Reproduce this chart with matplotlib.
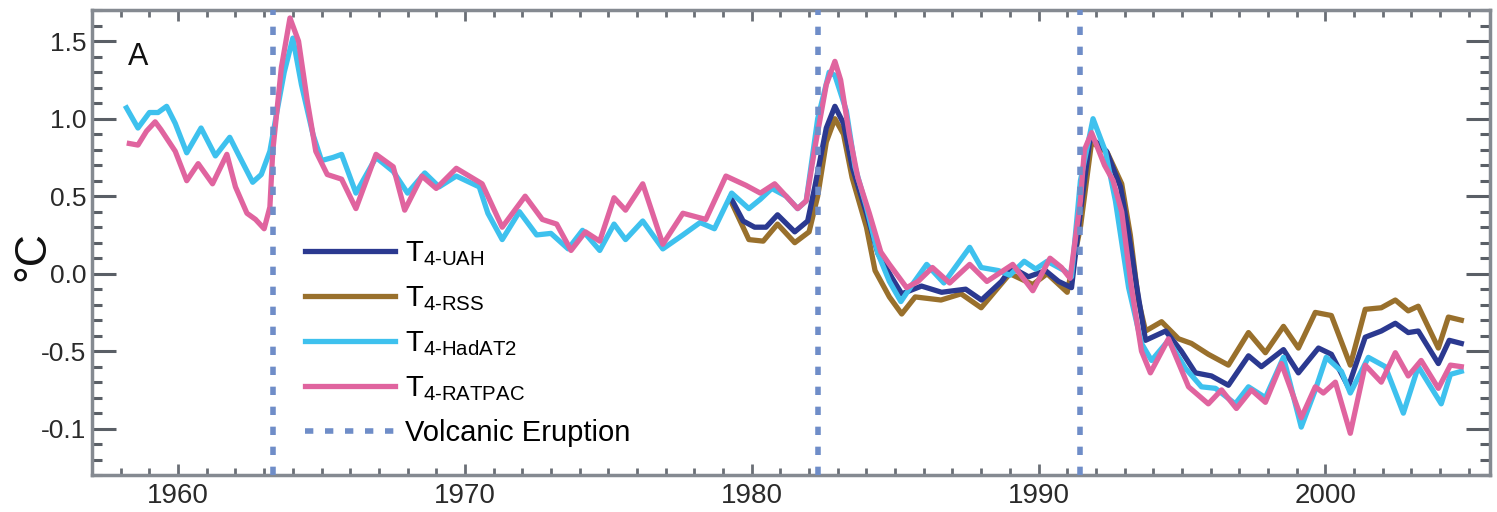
import numpy as np
import matplotlib.pyplot as plt
from matplotlib.ticker import MultipleLocator, FixedLocator, FixedFormatter

plt.rcParams['font.family'] = ['Liberation Sans', 'DejaVu Sans']
plt.rcParams['mathtext.fontset'] = 'custom'
plt.rcParams['mathtext.rm'] = 'Liberation Sans'

# T4 anomalies (deg C)
hadat2_years = [1958.2, 1958.6, 1959.0, 1959.3, 1959.6, 1959.9, 1960.3, 1960.8, 1961.3, 1961.8,
                1962.1, 1962.6, 1962.9, 1963.2, 1963.45, 1963.7, 1964.0, 1964.3, 1964.7, 1965.0,
                1965.4, 1965.7, 1966.2, 1966.9, 1967.5, 1968.0, 1968.6, 1969.1, 1969.7, 1970.5,
                1970.8, 1971.3, 1971.9, 1972.5, 1973.0, 1973.6, 1974.1, 1974.7, 1975.2, 1975.6,
                1976.2, 1976.9, 1977.6, 1978.2, 1978.7, 1979.3, 1979.9, 1980.3, 1980.7, 1981.2,
                1981.6, 1981.9, 1982.3, 1982.7, 1982.9, 1983.3, 1983.6, 1984.0, 1984.4, 1984.8,
                1985.2, 1985.6, 1986.1, 1986.7, 1987.6, 1988.0, 1988.6, 1989.0, 1989.5, 1989.9,
                1990.3, 1990.9, 1991.15, 1991.46, 1991.9, 1992.33, 1992.68, 1993.14, 1993.59, 1993.94,
                1994.53, 1995.12, 1995.68, 1996.17, 1996.86, 1997.32, 1997.91, 1998.54, 1999.16, 1999.65,
                2000.03, 2000.56, 2000.87, 2001.5, 2002.09, 2002.72, 2003.24, 2004.04, 2004.36, 2004.74]
hadat2_vals = [1.07, 0.94, 1.04, 1.04, 1.08, 0.97, 0.78, 0.94, 0.76, 0.88,
               0.77, 0.59, 0.64, 0.79, 1.05, 1.30, 1.52, 1.22, 0.90, 0.73,
               0.75, 0.77, 0.52, 0.75, 0.66, 0.52, 0.65, 0.56, 0.63, 0.56,
               0.39, 0.22, 0.40, 0.25, 0.26, 0.16, 0.28, 0.15, 0.32, 0.22,
               0.34, 0.16, 0.25, 0.33, 0.29, 0.52, 0.42, 0.48, 0.55, 0.50,
               0.42, 0.47, 1.00, 1.30, 1.28, 1.05, 0.69, 0.43, 0.13, -0.05,
               -0.18, -0.07, 0.06, -0.06, 0.17, 0.04, 0.02, -0.01, 0.08, 0.03,
               0.08, 0.02, -0.02, 0.60, 1.00, 0.79, 0.47, -0.09, -0.45, -0.56,
               -0.43, -0.61, -0.73, -0.74, -0.84, -0.73, -0.80, -0.54, -0.99, -0.75,
               -0.54, -0.63, -0.77, -0.54, -0.60, -0.90, -0.60, -0.84, -0.65, -0.63]

ratpac_years = [1958.3, 1958.6, 1958.9, 1959.2, 1959.4, 1959.9, 1960.3, 1960.7, 1961.2, 1961.7,
                1962.0, 1962.4, 1962.7, 1963.0, 1963.2, 1963.3, 1963.6, 1963.9, 1964.2, 1964.5,
                1964.8, 1965.2, 1965.7, 1966.2, 1966.9, 1967.5, 1967.9, 1968.5, 1969.0, 1969.7,
                1970.6, 1971.3, 1972.1, 1972.7, 1973.2, 1973.7, 1974.2, 1974.7, 1975.2, 1975.6,
                1976.2, 1976.9, 1977.6, 1978.4, 1979.1, 1979.8, 1980.3, 1980.8, 1981.2, 1981.6,
                1981.9, 1982.2, 1982.6, 1982.9, 1983.1, 1983.4, 1983.7, 1984.1, 1984.5, 1984.8,
                1985.4, 1985.8, 1986.3, 1986.9, 1987.6, 1988.2, 1989.1, 1989.8, 1990.4, 1990.8,
                1991.1, 1991.46, 1991.6, 1991.85, 1992.3, 1992.6, 1992.9, 1993.24, 1993.59, 1993.9,
                1994.53, 1995.23, 1995.92, 1996.38, 1996.9, 1997.42, 1997.91, 1998.47, 1999.16, 1999.65,
                1999.93, 2000.35, 2000.87, 2001.39, 2001.95, 2002.44, 2002.89, 2003.34, 2003.94, 2004.36,
                2004.74]
ratpac_vals = [0.84, 0.83, 0.92, 0.98, 0.93, 0.79, 0.60, 0.71, 0.58, 0.77,
               0.56, 0.39, 0.35, 0.29, 0.43, 0.79, 1.33, 1.65, 1.50, 1.12,
               0.79, 0.64, 0.61, 0.42, 0.77, 0.69, 0.41, 0.63, 0.55, 0.68,
               0.58, 0.30, 0.50, 0.35, 0.32, 0.15, 0.27, 0.21, 0.49, 0.41,
               0.58, 0.19, 0.39, 0.35, 0.63, 0.57, 0.52, 0.58, 0.50, 0.42,
               0.47, 0.81, 1.22, 1.37, 1.25, 0.90, 0.62, 0.39, 0.14, 0.06,
               -0.09, -0.05, 0.04, -0.06, 0.06, -0.05, 0.06, -0.11, 0.10, 0.04,
               -0.03, 0.47, 0.80, 0.91, 0.70, 0.60, 0.40, -0.09, -0.50, -0.64,
               -0.42, -0.73, -0.84, -0.75, -0.87, -0.75, -0.83, -0.58, -0.93, -0.73,
               -0.77, -0.70, -1.03, -0.59, -0.70, -0.51, -0.66, -0.56, -0.74, -0.59,
               -0.60]

uah_years = [1979.27, 1979.7, 1980.1, 1980.5, 1980.9, 1981.5, 1981.95, 1982.2, 1982.6, 1982.9,
             1983.2, 1983.5, 1984.0, 1984.4, 1984.9, 1985.23, 1985.92, 1986.62, 1987.46, 1988.01,
             1988.71, 1989.06, 1989.65, 1990.24, 1990.7, 1991.15, 1991.46, 1991.8, 1992.0, 1992.37,
             1992.86, 1993.14, 1993.41, 1993.73, 1994.43, 1994.98, 1995.47, 1996.03, 1996.62, 1997.32,
             1997.77, 1998.54, 1999.06, 1999.76, 2000.21, 2000.8, 2001.39, 2001.95, 2002.44, 2002.89,
             2003.24, 2003.94, 2004.32, 2004.74]
uah_vals = [0.49, 0.34, 0.30, 0.30, 0.38, 0.27, 0.34, 0.56, 0.94, 1.08,
            0.97, 0.69, 0.39, 0.13, -0.03, -0.13, -0.08, -0.12, -0.10, -0.17,
            -0.05, 0.04, -0.02, 0.02, -0.05, -0.09, 0.40, 0.88, 0.85, 0.79,
            0.56, 0.26, -0.07, -0.43, -0.37, -0.50, -0.64, -0.66, -0.72, -0.53,
            -0.60, -0.49, -0.64, -0.48, -0.52, -0.73, -0.41, -0.37, -0.32, -0.38,
            -0.37, -0.58, -0.43, -0.45]

rss_years = [1979.27, 1979.9, 1980.4, 1980.9, 1981.5, 1982.0, 1982.3, 1982.6, 1982.9, 1983.2,
             1983.5, 1984.0, 1984.3, 1984.8, 1985.23, 1985.7, 1986.6, 1987.3, 1988.0, 1989.0,
             1989.8, 1990.3, 1991.0, 1991.46, 1991.85, 1992.4, 1992.9, 1993.2, 1993.48, 1993.73,
             1994.29, 1994.88, 1995.33, 1995.92, 1996.62, 1997.32, 1997.91, 1998.54, 1999.06, 1999.65,
             2000.21, 2000.87, 2001.39, 2001.95, 2002.44, 2002.89, 2003.24, 2003.94, 2004.29, 2004.74]
rss_vals = [0.47, 0.22, 0.21, 0.32, 0.20, 0.27, 0.50, 0.85, 1.00, 0.90,
            0.62, 0.30, 0.02, -0.15, -0.26, -0.15, -0.17, -0.13, -0.22, 0.00,
            -0.07, 0.00, -0.12, 0.30, 0.85, 0.78, 0.58, 0.25, -0.17, -0.37,
            -0.31, -0.42, -0.45, -0.52, -0.59, -0.38, -0.51, -0.34, -0.48, -0.25,
            -0.27, -0.59, -0.23, -0.22, -0.17, -0.24, -0.21, -0.48, -0.28, -0.30]

eruption_years = [1963.3, 1982.3, 1991.45]

ytick_vals = [1.5, 1.0, 0.5, 0.0, -0.5, -1.0]
ytick_labels = ['1.5', '1.0', '0.5', '0.0', '-0.5', '-0.1']
xtick_vals = [1960, 1970, 1980, 1990, 2000]

fig = plt.figure(figsize=(14.97, 5.12), dpi=100)
ax = fig.add_axes([0.0615, 0.072, 0.934, 0.908])

hy = '\u2010'
lw = 3.8
ax.plot(uah_years, uah_vals, color='#2B3990', lw=lw, label=r'T$_{\mathregular{4' + hy + 'UAH}}$', zorder=3)
ax.plot(rss_years, rss_vals, color='#99702C', lw=lw, label=r'T$_{\mathregular{4' + hy + 'RSS}}$', zorder=2)
ax.plot(hadat2_years, hadat2_vals, color='#3EC1EE', lw=lw, label=r'T$_{\mathregular{4' + hy + 'HadAT2}}$', zorder=4)
ax.plot(ratpac_years, ratpac_vals, color='#E0649F', lw=lw, label=r'T$_{\mathregular{4' + hy + 'RATPAC}}$', zorder=5)
for i, yr in enumerate(eruption_years):
    ax.axvline(yr, color='#6F8DC8', lw=4, linestyle=(0, (1.5, 2.1)), zorder=6,
               label='Volcanic Eruption' if i == 0 else None)

ax.set_xlim(1957.0, 2005.75)
ax.set_ylim(-1.30, 1.70)

ax.xaxis.set_major_locator(FixedLocator(xtick_vals))
ax.xaxis.set_minor_locator(MultipleLocator(1))
ax.yaxis.set_major_locator(FixedLocator(ytick_vals))
ax.yaxis.set_major_formatter(FixedFormatter(ytick_labels))
ax.yaxis.set_minor_locator(MultipleLocator(0.1))

spine_col = '#858A91'
for s in ax.spines.values():
    s.set_color(spine_col)
    s.set_linewidth(2.5)

ax.tick_params(axis='y', which='major', direction='in', length=17, width=2.2, color='#5a5f66',
               left=True, right=True, labelsize=19, labelcolor='#2a2a2a', pad=4)
ax.tick_params(axis='y', which='minor', direction='in', length=7, width=2.2, color='#5a5f66',
               left=True, right=True)
ax.tick_params(axis='x', which='major', direction='in', length=8, width=2, color='#6a6f76',
               top=True, bottom=True, labelsize=20, labelcolor='#2a2a2a', pad=6)
ax.tick_params(axis='x', which='minor', direction='in', length=5, width=2, color='#6a6f76',
               top=True, bottom=True)

fig.text(0.022, 0.50, '°C', rotation=90, fontsize=32, color='#111111', ha='center', va='center')
ax.text(0.026, 0.882, 'A', transform=ax.transAxes, fontsize=22, color='#111111')

ax.legend(loc='upper left', bbox_to_anchor=(0.152, 0.507), frameon=False, fontsize=21,
          handlelength=3.1, handletextpad=0.35, labelspacing=0.55, borderpad=0, borderaxespad=0)

fig.savefig('out.png', dpi=100)
